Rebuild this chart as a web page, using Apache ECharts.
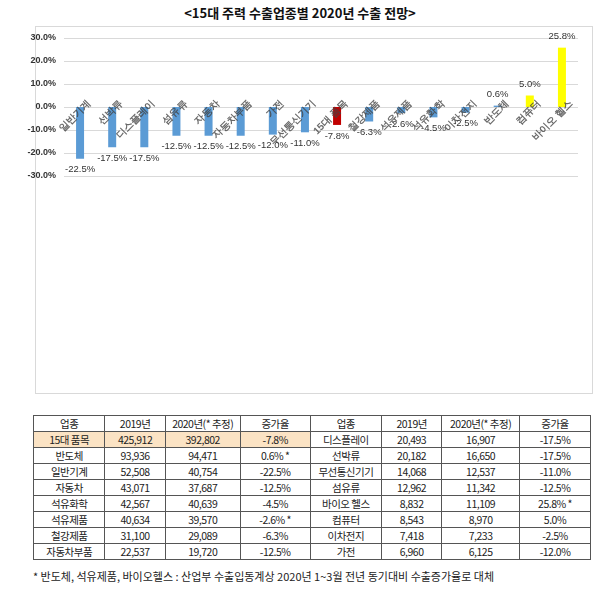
<!DOCTYPE html>
<html><head><meta charset="utf-8">
<script src="https://cdn.jsdelivr.net/npm/echarts@6/dist/echarts.min.js"></script>
<style>
body{margin:0;width:600px;height:601px;background:#fff;font-family:"Noto Sans CJK KR",sans-serif;position:relative;overflow:hidden}
#title{position:absolute;top:3px;left:0;width:600px;text-align:center;font-size:13px;font-weight:bold;color:#111}
#frame{position:absolute;left:35px;top:26px;width:556px;height:366px;border:1px solid #d9d9d9}
#chart{position:absolute;left:0;top:0;width:600px;height:400px}
table{position:absolute;left:33px;top:415px;width:558px;border-collapse:collapse;font-size:10.5px;color:#222;letter-spacing:-0.5px}
td{border:1px solid #555;height:15px;padding:0;text-align:center;line-height:15px}
td.d{border-right:1px dashed #777}
tr.h td.hl{background:#fbe3c4}
#foot{position:absolute;left:33px;top:568px;font-size:11px;color:#222}
</style></head><body>
<div id="title">&lt;15대 주력 수출업종별 2020년 수출 전망&gt;</div>
<div id="frame"></div>
<div id="chart"></div>
<table id="tbl"></table>
<div id="foot">* 반도체, 석유제품, 바이오헬스 : 산업부 수출입동계상 2020년 1~3월 전년 동기대비 수출증가율로 대체</div>
<script>
const categories=["일반기계","선박류","디스플레이","섬유류","자동차","자동차부품","가전","무선통신기기","15대 품목","철강제품","석유제품","석유화학","이차전지","반도체","컴퓨터","바이오 헬스"];
const values=[-22.5,-17.5,-17.5,-12.5,-12.5,-12.5,-12.0,-11.0,-7.8,-6.3,-2.6,-4.5,-2.5,0.6,5.0,25.8];
const colors=["#5b9bd5","#5b9bd5","#5b9bd5","#5b9bd5","#5b9bd5","#5b9bd5","#5b9bd5","#5b9bd5","#c00000","#5b9bd5","#5b9bd5","#5b9bd5","#5b9bd5","#5b9bd5","#ffff00","#ffff00"];
const header=["업종","2019년","2020년(* 추정)","증가율"];
const leftRows=[["15대 품목","425,912","392,802","-7.8%"],["반도체","93,936","94,471","0.6% *"],["일반기계","52,508","40,754","-22.5%"],["자동차","43,071","37,687","-12.5%"],["석유화학","42,567","40,639","-4.5%"],["석유제품","40,634","39,570","-2.6% *"],["철강제품","31,100","29,089","-6.3%"],["자동차부품","22,537","19,720","-12.5%"]];
const rightRows=[["디스플레이","20,493","16,907","-17.5%"],["선박류","20,182","16,650","-17.5%"],["무선통신기기","14,068","12,537","-11.0%"],["섬유류","12,962","11,342","-12.5%"],["바이오 헬스","8,832","11,109","25.8% *"],["컴퓨터","8,543","8,970","5.0%"],["이차전지","7,418","7,233","-2.5%"],["가전","6,960","6,125","-12.0%"]];
const widths=[72,60,75,70,72,60,78,71];
let html="<tr>"+header.concat(header).map((h,i)=>`<td class="${i==3?'d':''}" style="width:${widths[i]}px">${h}</td>`).join("")+"</tr>";
leftRows.forEach((r,k)=>{const row=r.concat(rightRows[k]);html+=`<tr class="${k==0?'h':''}">`+row.map((c,i)=>`<td class="${i==3?'d':''} ${i<4?'hl':''}">${c}</td>`).join("")+"</tr>";});
document.getElementById("tbl").innerHTML=html;
const chart=echarts.init(document.getElementById("chart"));
chart.setOption({
 animation:false,
 grid:{left:64,right:22,top:38,bottom:224,outerBoundsMode:"none",containLabel:false},
 xAxis:{type:"category",data:categories,axisLine:{show:false},axisTick:{show:false},axisLabel:{show:false}},
 yAxis:{type:"value",min:-30,max:30,interval:10,axisLine:{show:false},axisTick:{show:false},
  splitLine:{lineStyle:{color:"#d9d9d9"}},
  axisLabel:{formatter:v=>v.toFixed(1)+"%",fontSize:9,fontWeight:"bold",color:"#333"}},
 series:[{type:"bar",barWidth:8,
  data:values.map((v,i)=>({value:v,itemStyle:{color:colors[i]},label:{position:v<0?"bottom":"top"}})),
  label:{show:true,formatter:p=>p.value.toFixed(1)+"%",fontSize:9.5,color:"#333",distance:6}},
  {type:"scatter",symbolSize:0,silent:true,z:5,data:categories.map(c=>[c,0]),
   label:{show:true,position:"inside",rotate:45,align:"right",verticalAlign:"middle",offset:[10,3],
    formatter:p=>p.name||p.value[0],fontSize:10,fontWeight:"bold",color:"#444"}}]
});
</script></body></html>
